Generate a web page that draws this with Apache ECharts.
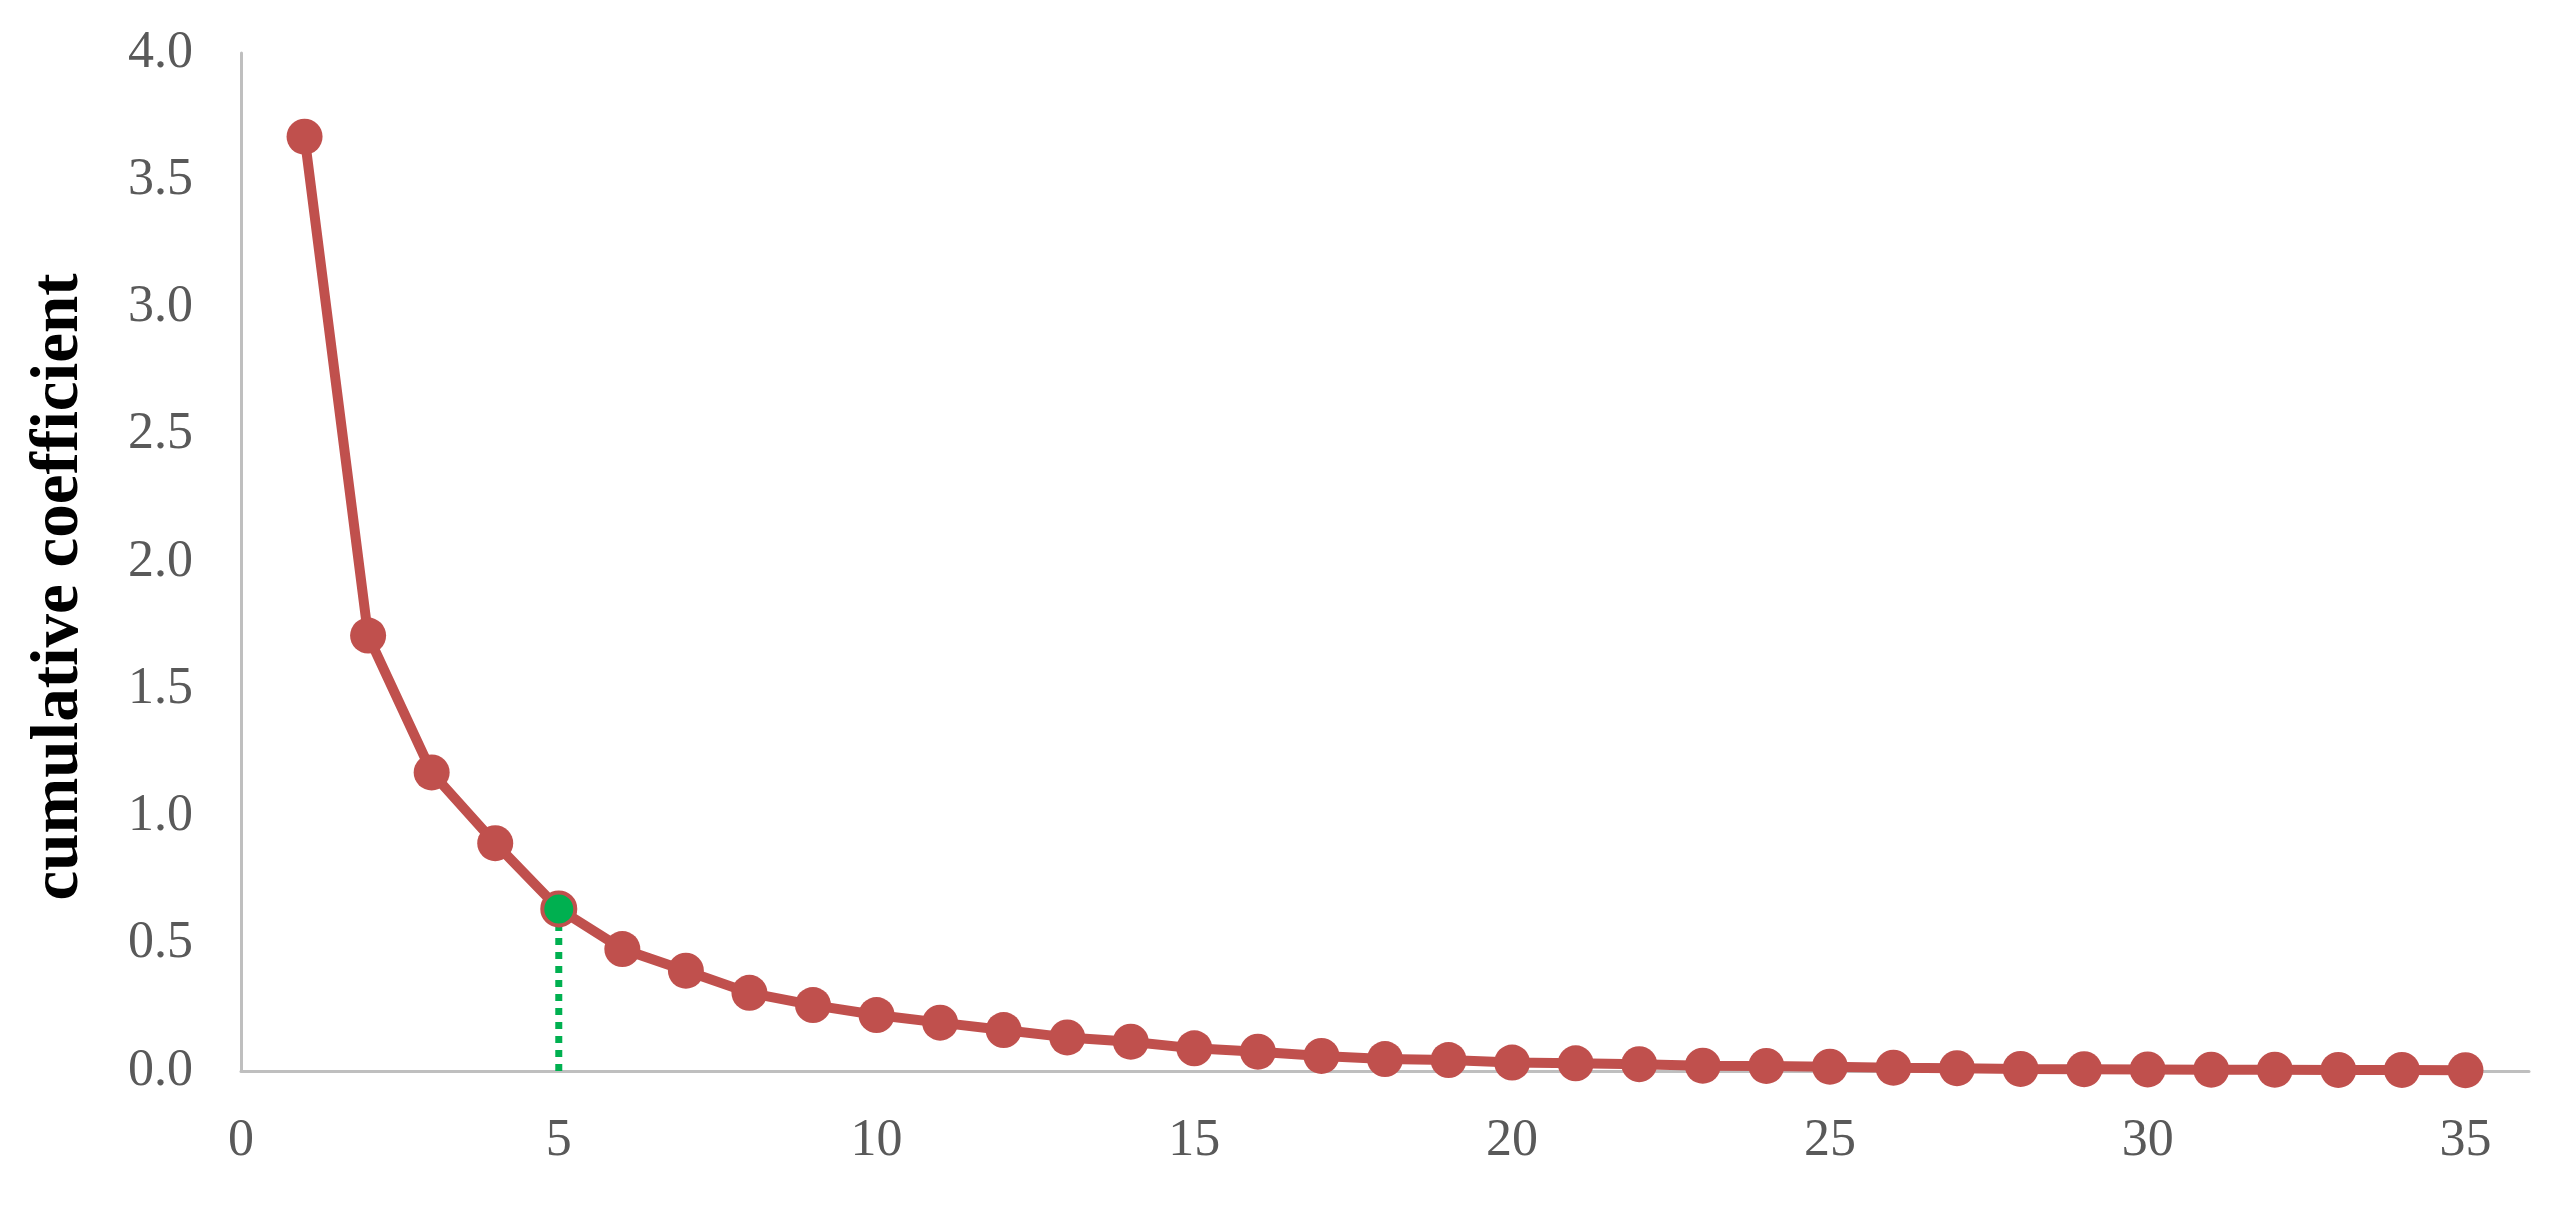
<!DOCTYPE html>
<html>
<head>
<meta charset="utf-8">
<title>cumulative coefficient</title>
<script src="https://cdn.jsdelivr.net/npm/echarts@6/dist/echarts.min.js"></script>
<style>
  html, body { margin: 0; padding: 0; background: #fff; }
  #chart { width: 2555px; height: 1216px; }
</style>
</head>
<body>
<div id="chart"></div>
<script>
// values
var steps = [1, 2, 3, 4, 5, 6, 7, 8, 9, 10, 11, 12, 13, 14, 15, 16, 17, 18,
  19, 20, 21, 22, 23, 24, 25, 26, 27, 28, 29, 30, 31, 32, 33, 34, 35]
var coef = [3.671, 1.711, 1.173, 0.895, 0.637, 0.479, 0.394, 0.307, 0.259,
  0.220, 0.190, 0.161, 0.132, 0.115, 0.089, 0.076, 0.059, 0.047, 0.043,
  0.033, 0.030, 0.027, 0.021, 0.020, 0.017, 0.013, 0.011, 0.008, 0.007,
  0.006, 0.005, 0.005, 0.004, 0.004, 0.003]
// the chosen point (green) and its drop line
var pickStep = 5

var red = '#c0504d'
var green = '#00b050'
var gray = '#bfbfbf'
var labelFont = '"Liberation Serif", "Times New Roman", serif'

var pickValue = coef[steps.indexOf(pickStep)]

var lineData = steps.map(function (s, i) {
  var item = { value: [s, coef[i]] }
  if (s === pickStep) {
    // 绿色的点，外面一圈红色
    item.itemStyle = { color: green, borderColor: red, borderWidth: 4 }
    item.symbolSize = 33
  }
  return item
})

var chart = echarts.init(document.getElementById('chart'))
chart.setOption({
  animation: false,
  grid: { left: 241, right: 26, top: 53, bottom: 145 },
  xAxis: {
    type: 'value',
    min: 0,
    max: 36,
    interval: 5,
    axisLine: { lineStyle: { color: gray, width: 3 } },
    axisTick: { show: false },
    splitLine: { show: false },
    axisLabel: {
      showMaxLabel: false,
      margin: 44,
      color: '#595959',
      fontFamily: labelFont,
      fontSize: 52
    }
  },
  yAxis: {
    type: 'value',
    min: 0,
    max: 4,
    interval: 0.5,
    name: 'cumulative coefficient',
    nameLocation: 'middle',
    nameGap: 148,
    nameTextStyle: {
      color: '#000',
      fontFamily: labelFont,
      fontWeight: 'bold',
      fontSize: 67,
      padding: [0, 0, 0, -50]
    },
    axisLine: { show: true, lineStyle: { color: gray, width: 3 } },
    axisTick: { show: false },
    splitLine: { show: false },
    axisLabel: {
      margin: 48,
      color: '#595959',
      fontFamily: labelFont,
      fontSize: 52,
      formatter: function (v) { return v.toFixed(1) }
    }
  },
  series: [
    {
      type: 'line',
      data: [[pickStep, 0], [pickStep, pickValue - 0.06]],
      symbol: 'none',
      lineStyle: { color: green, width: 7, type: [7, 7] },
      z: 1
    },
    {
      type: 'line',
      data: lineData,
      symbol: 'circle',
      symbolSize: 36,
      lineStyle: { color: red, width: 10 },
      itemStyle: { color: red },
      z: 2
    }
  ]
})
</script>
</body>
</html>
